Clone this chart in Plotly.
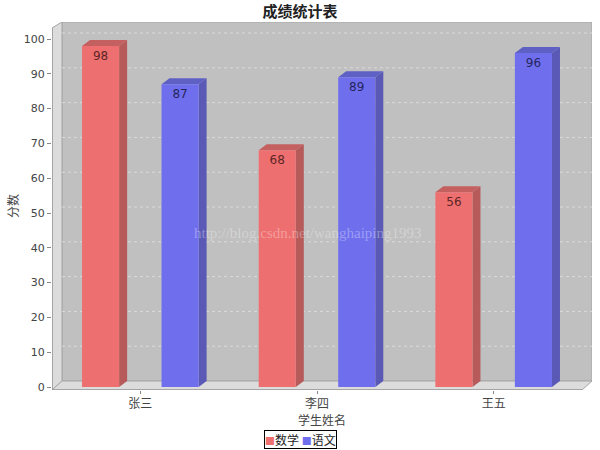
import plotly.graph_objects as go

# ---------------- data ----------------
categories = ['张三', '李四', '王五']
series_names = ['数学', '语文']
math_scores = [98, 68, 56]
chinese_scores = [87, 89, 96]
y_tick_values = [0, 10, 20, 30, 40, 50, 60, 70, 80, 90, 100]

# ---------------- geometry / style ----------------
W, H = 600, 450
ML, MR, MT, MB = 52, 8, 22, 60
X_RANGE = [-0.5, 2.5566]
Y_RANGE = [-0.862, 104.89]
PX_X = (W - ML - MR) / (X_RANGE[1] - X_RANGE[0])
PX_Y = (H - MT - MB) / (Y_RANGE[1] - Y_RANGE[0])

BAR_W = 0.21
OFFSETS = [-0.33, 0.12]
BDX, BDY = 8 / PX_X, 6 / PX_Y     # bar depth
WDX, WDY = 10 / PX_X, 6 / PX_Y    # wall depth

FRONT = ['#ee6f6f', '#6f6fee']
SIDE = ['#b65a5a', '#5a5ab6']
TOP = ['#c4605f', '#5f60c4']
TXT = ['#5e2626', '#26265e']

FONT_NUM = 'DejaVu Sans'
FONT_CJK = 'Noto Sans CJK SC'

fig = go.Figure()

series = [math_scores, chinese_scores]
for k, (name, vals) in enumerate(zip(series_names, series)):
    fig.add_trace(go.Bar(
        x=list(range(len(categories))), y=vals, name=name,
        width=BAR_W, offset=OFFSETS[k],
        marker=dict(color=FRONT[k], line=dict(width=0)),
        text=[str(v) for v in vals], textposition='inside',
        insidetextanchor='end', constraintext='none',
        textfont=dict(family=FONT_NUM, size=12, color=TXT[k]),
        hoverinfo='skip', showlegend=False,
    ))

shapes = []

def poly(pts, fill, line_color=None, width=0):
    path = 'M ' + ' L '.join(f'{x},{y}' for x, y in pts) + ' Z'
    return dict(type='path', path=path, xref='x', yref='y', layer='below',
                fillcolor=fill,
                line=dict(color=line_color or fill, width=width))

x0w = X_RANGE[0]
x1w = X_RANGE[1] - WDX
# back wall
shapes.append(poly([(x0w + WDX, WDY), (X_RANGE[1], WDY), (X_RANGE[1], Y_RANGE[1]),
                    (x0w + WDX, Y_RANGE[1])], '#c0c0c0', '#a6a6a6', 1))
# left wall
shapes.append(poly([(x0w, Y_RANGE[0]), (x0w, Y_RANGE[1] - WDY), (x0w + WDX, Y_RANGE[1]),
                    (x0w + WDX, WDY)], '#dcdcdc', '#a6a6a6', 1))
# floor
shapes.append(poly([(x0w, Y_RANGE[0]), (x1w, Y_RANGE[0]), (X_RANGE[1], WDY),
                    (x0w + WDX, WDY)], '#dcdcdc', '#a6a6a6', 1))
# gridlines on back wall
for v in y_tick_values[1:]:
    shapes.append(dict(type='line', xref='x', yref='y', layer='below',
                       x0=x0w + WDX, x1=X_RANGE[1], y0=v + WDY, y1=v + WDY,
                       line=dict(color='#dadada', width=1, dash='dot')))
# axis lines (front edges)
shapes.append(dict(type='line', xref='x', yref='y', layer='above',
                   x0=x0w, x1=x1w, y0=Y_RANGE[0], y1=Y_RANGE[0],
                   line=dict(color='#888888', width=1)))
shapes.append(dict(type='line', xref='x', yref='y', layer='above',
                   x0=x0w, x1=x0w, y0=Y_RANGE[0], y1=Y_RANGE[1] - WDY,
                   line=dict(color='#888888', width=1)))

# 3D side + top faces of each bar
for k, vals in enumerate(series):
    for i, v in enumerate(vals):
        bx0 = i + OFFSETS[k]
        bx1 = bx0 + BAR_W
        shapes.append(poly([(bx1, 0), (bx1 + BDX, BDY), (bx1 + BDX, v + BDY), (bx1, v)], SIDE[k]))
        shapes.append(poly([(bx0, v), (bx0 + BDX, v + BDY), (bx1 + BDX, v + BDY), (bx1, v)], TOP[k]))

legend_text = ' '.join(
    f'<span style="color:{FRONT[k]};font-size:10px">■</span>{name}' for k, name in enumerate(series_names))

fig.update_layout(
    width=W, height=H,
    margin=dict(l=ML, r=MR, t=MT, b=MB, autoexpand=False),
    paper_bgcolor='white', plot_bgcolor='white',
    barmode='overlay',
    shapes=shapes,
    title=dict(text='<b>成绩统计表</b>', x=0.5, xref='container', xanchor='center',
               y=1 - 12 / H, yref='container', yanchor='middle',
               font=dict(family=FONT_CJK, size=15, color='#222222')),
    xaxis=dict(range=X_RANGE, tickvals=list(range(len(categories))), ticktext=categories,
               showgrid=False, zeroline=False, showline=False,
               ticks='outside', ticklen=3, tickcolor='#888888',
               tickfont=dict(family=FONT_CJK, size=12, color='#444444'),
               title=dict(text='学生姓名', standoff=3,
                          font=dict(family=FONT_CJK, size=12, color='#444444'))),
    yaxis=dict(range=Y_RANGE, tickvals=y_tick_values,
               showgrid=False, zeroline=False, showline=False,
               ticks='outside', ticklen=4, tickcolor='#888888',
               tickfont=dict(family=FONT_NUM, size=11, color='#444444'),
               title=dict(text='分数', standoff=2,
                          font=dict(family=FONT_CJK, size=12, color='#444444'))),
    annotations=[
        dict(text='http://blog.csdn.net/wanghaiping1993', xref='paper', yref='paper',
             x=(307 - ML) / (W - ML - MR), y=(H - MB - 233) / (H - MT - MB),
             showarrow=False,
             font=dict(family='Liberation Serif', size=15, color='rgba(255,255,255,0.32)')),
        dict(text=legend_text, xref='paper', yref='paper',
             x=(300 - ML) / (W - ML - MR), y=(H - MB - 439) / (H - MT - MB),
             xanchor='center', yanchor='middle', showarrow=False,
             bordercolor='#000000', borderwidth=1, borderpad=0, bgcolor='white',
             font=dict(family=FONT_CJK, size=12, color='#222222')),
    ],
)

fig.write_html('out.html', config={'displayModeBar': False},
               post_script="document.body.style.margin='0px';")
